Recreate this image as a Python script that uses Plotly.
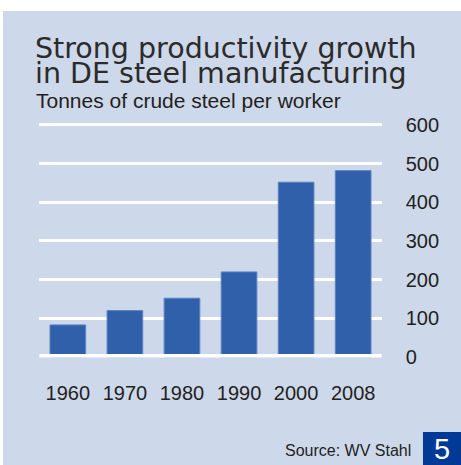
import plotly.graph_objects as go

# Crude steel output per worker in Germany (tonnes)
years = ["1960", "1970", "1980", "1990", "2000", "2008"]
tonnes_per_worker = [83, 120, 152, 220, 452, 482]
y_ticks = [0, 100, 200, 300, 400, 500, 600]

title_lines = ["Strong productivity growth", "in DE steel manufacturing"]
subtitle = "Tonnes of crude steel per worker"
source = "Source: WV Stahl"
page_no = "5"

W, H = 461, 465
PANEL = "#CDD8EA"
BAR = "#3160AB"
TEXT = "#231F20"


def px(x):
    return x / W


def py(y):
    return 1 - y / H


fig = go.Figure(
    go.Bar(
        x=years,
        y=tonnes_per_worker,
        marker=dict(color=BAR, line=dict(color="#5C81C2", width=1)),
        hoverinfo="x+y",
    )
)

# pixels per unit on the value axis; range padded so the 600 grid line is kept
ppu = 232 / 600
y_lo, y_hi = -1, 608
x_dom = [px(39.3), px(381.7)]
y_dom = [py(357 + (0 - y_lo) * ppu), py(357 - (y_hi - 0) * ppu)]

fig.update_layout(
    width=W,
    height=H,
    margin=dict(l=0, r=0, t=0, b=0, autoexpand=False),
    paper_bgcolor="white",
    plot_bgcolor="rgba(0,0,0,0)",
    showlegend=False,
    bargap=0.375,
    xaxis=dict(
        domain=x_dom,
        type="category",
        range=[-0.5, 5.5],
        automargin=False,
        showgrid=False,
        zeroline=False,
        showline=False,
        ticks="",
        ticklabelstandoff=22,
        tickfont=dict(family="Liberation Sans, Arial, sans-serif", size=20, color=TEXT),
    ),
    yaxis=dict(
        domain=y_dom,
        range=[y_lo, y_hi],
        side="right",
        automargin=False,
        tickvals=y_ticks,
        ticktext=[str(v) for v in y_ticks],
        showgrid=True,
        gridcolor="white",
        gridwidth=2.5,
        zeroline=False,
        showline=False,
        ticks="",
        ticklabelstandoff=23,
        tickfont=dict(family="Liberation Sans, Arial, sans-serif", size=20, color=TEXT),
    ),
    shapes=[
        # light blue background panel
        dict(type="rect", xref="paper", yref="paper",
             x0=px(3), x1=1, y0=0, y1=py(11),
             fillcolor=PANEL, line=dict(width=0), layer="below"),
        # page number box
        dict(type="rect", xref="paper", yref="paper",
             x0=px(423), x1=1, y0=0, y1=py(432),
             fillcolor="#003A96", line=dict(width=0), layer="above"),
        # thick baseline
        dict(type="line", xref="paper", yref="y",
             x0=x_dom[0], x1=x_dom[1], y0=0, y1=0,
             line=dict(color="white", width=6), layer="above"),
    ],
)

title_font = dict(family="DejaVu Sans, sans-serif", size=28.5, color="#2B2B2B")
fig.add_annotation(text=title_lines[0], xref="paper", yref="paper",
                   x=px(33), y=py(48), xanchor="left", yanchor="middle",
                   showarrow=False, font=title_font)
fig.add_annotation(text=title_lines[1], xref="paper", yref="paper",
                   x=px(33), y=py(73), xanchor="left", yanchor="middle",
                   showarrow=False, font=title_font)
fig.add_annotation(text=subtitle, xref="paper", yref="paper",
                   x=px(34), y=py(100), xanchor="left", yanchor="middle",
                   showarrow=False,
                   font=dict(family="Liberation Sans, Arial, sans-serif", size=21, color=TEXT))
fig.add_annotation(text=source, xref="paper", yref="paper",
                   x=px(413), y=py(450), xanchor="right", yanchor="middle",
                   showarrow=False,
                   font=dict(family="Liberation Sans, Arial, sans-serif", size=16, color=TEXT))
fig.add_annotation(text=page_no, xref="paper", yref="paper",
                   x=px(442), y=py(449), xanchor="center", yanchor="middle",
                   showarrow=False,
                   font=dict(family="Liberation Sans, Arial, sans-serif", size=29, color="white"))

fig.write_html("out.html")
